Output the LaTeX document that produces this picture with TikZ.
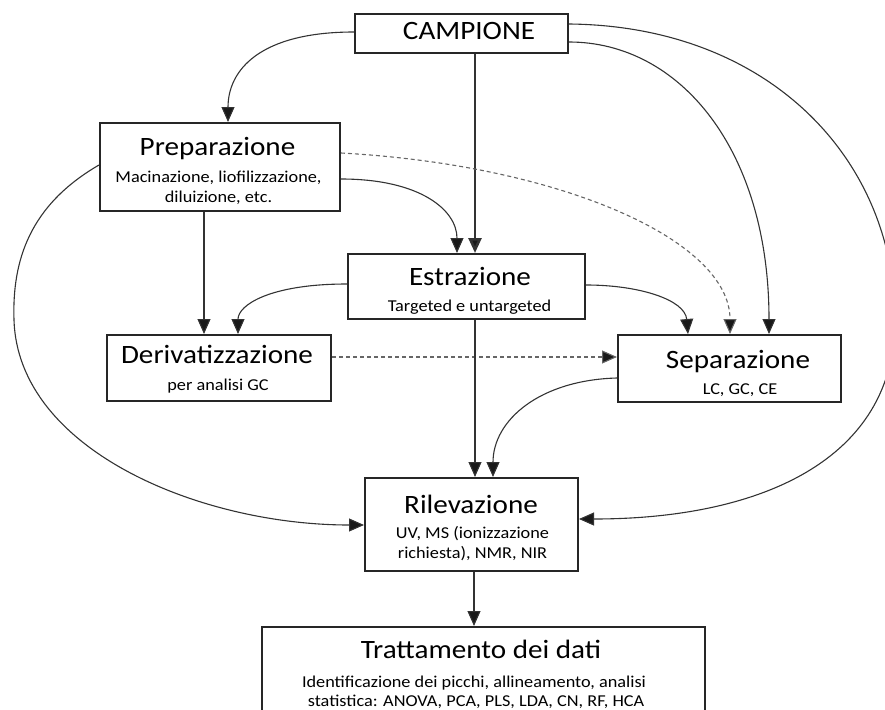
\documentclass[tikz,border=0pt]{standalone}
\usepackage{fontspec}
\setmainfont[FakeStretch=1.1]{Carlito}
\usetikzlibrary{arrows.meta}
\newcommand\ttltxt{\fontsize{26.5}{30}\selectfont}
\newcommand\subtxt{\fontsize{16.6}{20}\selectfont}
\tikzset{
  box/.style={draw=black!85, line width=2pt, inner sep=0pt, fill=none},
  lbl/.style={anchor=base, inner sep=0pt, align=center, text=black},
  conn/.style={draw=black!80, line width=1.1pt, -{Triangle[length=15pt,width=13pt,fill=black!90]}},
  dconn/.style={conn, draw=black!60, dash pattern=on 4pt off 3pt, -{Triangle[length=15pt,width=13pt,sep=0pt,fill=black!90]}},
}
\begin{document}
\begin{tikzpicture}[x=1pt,y=-1pt]
\useasboundingbox (0,0) rectangle (885,709);
% boxes
\node[box, minimum width=213pt, minimum height=39pt] (camp) at (461.5,33.5) {};
\node[box, minimum width=240pt, minimum height=88pt] (prep) at (220,167) {};
\node[box, minimum width=237pt, minimum height=65pt] (estr) at (466.5,286.5) {};
\node[box, minimum width=224pt, minimum height=66pt] (deriv) at (219,368) {};
\node[box, minimum width=223pt, minimum height=67pt] (sep) at (729.5,368.5) {};
\node[box, minimum width=213pt, minimum height=93pt] (ril) at (471.5,524.5) {};
\node[box, minimum width=443pt, minimum height=113pt] (tratt) at (483.5,683.5) {};
% texts
\node[lbl] (tcamp) at (469,40) {\ttltxt CAMPIONE};
\node[lbl] (tprep) at (217.5,155) {\ttltxt Preparazione};
\node[lbl] (sprep1) at (218.5,182) {\subtxt Macinazione, liofilizzazione,};
\node[lbl] (sprep2) at (218.5,202) {\subtxt diluizione, etc.};
\node[lbl] (testr) at (470,285) {\ttltxt Estrazione};
\node[lbl] (sestr) at (469.5,311) {\subtxt Targeted e untargeted};
\node[lbl] (tderiv) at (217,363) {\ttltxt Derivatizzazione};
\node[lbl] (sderiv) at (218,390) {\subtxt per analisi GC};
\node[lbl] (tsep) at (738,368) {\ttltxt Separazione};
\node[lbl] (ssep) at (740,394) {\subtxt LC, GC, CE};
\node[lbl] (tril) at (471,513) {\ttltxt Rilevazione};
\node[lbl] (sril1) at (472.5,538) {\subtxt UV, MS (ionizzazione};
\node[lbl] (sril2) at (472.5,558) {\subtxt richiesta), NMR, NIR};
\node[lbl] (ttratt) at (481,658) {\ttltxt Trattamento dei dati};
\node[lbl] (stratt1) at (474,687) {\subtxt Identificazione dei picchi, allineamento, analisi};
\node[lbl] (stratt2) at (476,706) {\subtxt statistica: ANOVA, PCA, PLS, LDA, CN, RF, HCA};
% connectors
\draw[conn, line width=2.6pt] (camp.south -| 475,0) -- (estr.north -| 475,0);
\draw[conn] (prep.east |- 0,179) .. controls (420,179) and (457,210) .. (estr.north -| 457,0);
\draw[conn] (camp.west |- 0,32) .. controls (260,32) and (228,70) .. (prep.north -| 228,0);
\draw[conn] (prep.south -| 204,0) -- (deriv.north -| 204,0);
\draw[conn] (estr.west |- 0,284) .. controls (270,284) and (238,305) .. (deriv.north -| 238,0);
\draw[dconn] (prep.east |- 0,153) .. controls (560,165) and (730,240) .. (sep.north -| 730,0);
\draw[conn] (camp.east |- 0,24) .. controls (770,26) and (895,160) .. (895,320) .. controls (895,460) and (760,519) .. (ril.east |- 0,519);
\draw[conn] (camp.east |- 0,42) .. controls (680,42) and (769,150) .. (sep.north -| 769,0);
\draw[conn] (estr.east |- 0,285) .. controls (640,285) and (685,300) .. (sep.north -| 688,0);
\draw[dconn] (deriv.east |- 0,357) -- (sep.west |- 0,357);
\draw[conn] (estr.south -| 475,0) -- (ril.north -| 475,0);
\draw[conn] (sep.west |- 0,378) .. controls (540,380) and (493,420) .. (ril.north -| 493,0);
\draw[conn] (prep.west |- 0,165) .. controls (30,205) and (12,260) .. (14,320) .. controls (18,450) and (200,525) .. (ril.west |- 0,525);
\draw[conn] (ril.south -| 474,0) -- (tratt.north -| 474,0);
\end{tikzpicture}
\end{document}
